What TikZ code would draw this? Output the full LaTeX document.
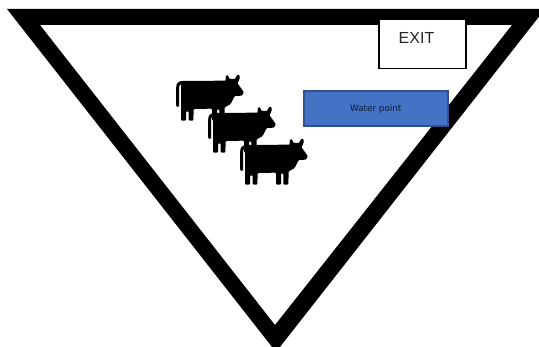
\documentclass[tikz,border=0pt]{standalone}
\usepackage{fontspec}
\setmainfont{Liberation Sans}
\newfontfamily\verd{DejaVu Sans}
\definecolor{wfill}{HTML}{4472C4}
\definecolor{wline}{HTML}{2F528F}
\definecolor{wtext}{HTML}{0B1A33}
\tikzset{
  exitbox/.style={draw=black,line width=1.2pt,fill=white,minimum width=87pt,minimum height=49pt,inner sep=0pt},
  exitlabel/.style={inner sep=0pt,font=\fontsize{16}{18}\selectfont,text=black!85},
  waterbox/.style={draw=wline,line width=1.6pt,fill=wfill,minimum width=144pt,minimum height=35pt,inner sep=0pt,font=\verd\fontsize{8.8}{10}\selectfont,text=wtext},
  pics/cow/.style={code={
    \fill[black,rounded corners=1pt]
      (64,63) -- (198,62) -- (196,52) -- (199,45) -- (205,47) -- (208,57) -- (226,57)
      -- (229,47) -- (235,43) -- (240,49) -- (237,62) -- (232,69) -- (252,97) -- (246,107)
      -- (224,108) -- (212,132) -- (194,142) -- (193,182) -- (178,182) -- (178,148)
      -- (171,148) -- (171,182) -- (156,182) -- (156,146) -- (101,147) -- (100,182)
      -- (86,182) -- (86,154) -- (78,154) -- (78,182) -- (63,182) -- (63,75) -- cycle;
    \draw[black,line width=3pt,line cap=round]
      (64,67) .. controls (57,68) and (53,74) .. (53,84) -- (53,137);
  }}
}
\begin{document}
\begin{tikzpicture}[x=1pt,y=-1pt]
\useasboundingbox (0,0) rectangle (539,347);
\fill[white] (0,0) rectangle (539,347);
\fill[black,even odd rule] (7,9) -- (545,9) -- (276,352) -- cycle
  (40,25) -- (512,25) -- (275,325) -- cycle;
\pic at (160,60) [scale=1/3] {cow};
\pic at (192,92) [scale=1/3] {cow};
\pic at (224,124) [scale=1/3] {cow};
\node[exitbox] (exit) at (422.5,43.8) {};
\node[exitlabel] (exittext) at (416.5,38) {EXIT};
\node[waterbox] (water) at (375.8,108.7) {Water point};
\end{tikzpicture}
\end{document}
